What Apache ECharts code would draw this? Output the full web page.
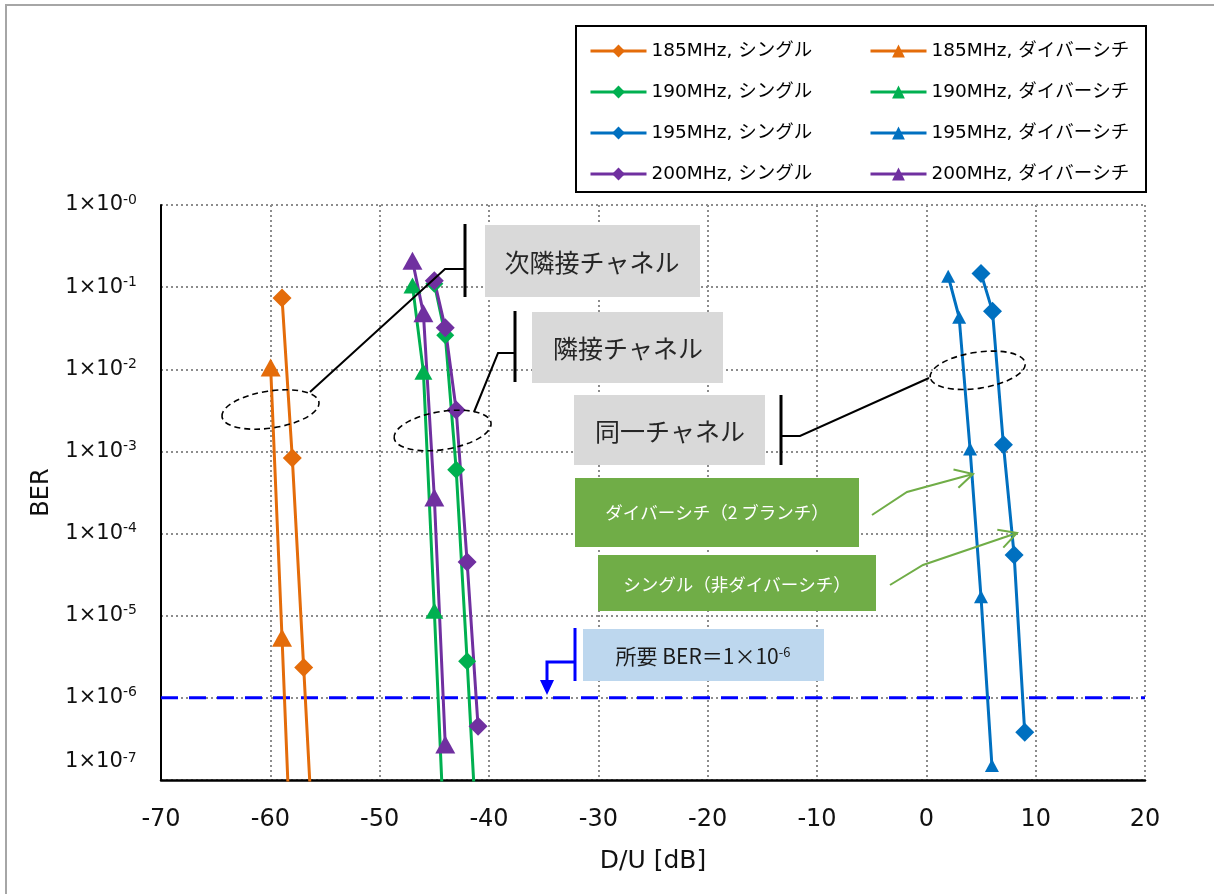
<!DOCTYPE html>
<html><head><meta charset="utf-8">
<script src="https://cdn.jsdelivr.net/npm/echarts@6/dist/echarts.min.js"></script>
<style>html,body{margin:0;padding:0;background:#fff}#c{width:1214px;height:894px}</style>
</head><body><div id="c"></div>
<script>
// ---- data: [D/U (dB), BER] ----
const X_MIN = -70, X_MAX = 20, X_STEP = 10;
const Y_MIN = 1e-7, Y_MAX = 1;
const REQUIRED_BER = 1e-6;

const s185Single = [[-58.93, 0.074], [-57.99, 8.3e-4], [-56.95, 2.35e-6], [-56.0, 1e-8]];
const s185Div    = [[-59.97, 0.0105], [-58.93, 5.4e-6], [-58.1, 1e-8]];
const s190Single = [[-45.0, 0.11], [-44.0, 0.026], [-43.0, 6.0e-4], [-42.0, 2.8e-6], [-41.0, 1e-8]];
const s190Div    = [[-47.0, 0.105], [-46.0, 9.3e-3], [-45.0, 1.15e-5], [-44.0, 1e-8]];
const s195Single = [[5.0, 0.147], [6.05, 0.051], [7.05, 1.21e-3], [8.03, 5.5e-5], [9.0, 3.8e-7]];
const s195Div    = [[2.0, 0.136], [3.0, 0.043], [4.0, 1.07e-3], [5.0, 1.7e-5], [6.0, 1.5e-7]];
const s200Single = [[-45.0, 0.12], [-44.0, 0.032], [-43.0, 3.2e-3], [-42.0, 4.5e-5], [-41.0, 4.5e-7]];
const s200Div    = [[-47.0, 0.21], [-46.0, 0.048], [-45.0, 2.75e-4], [-44.0, 2.7e-7]];

const namesSingle = ['185MHz, シングル', '190MHz, シングル', '195MHz, シングル', '200MHz, シングル'];
const namesDiv    = ['185MHz, ダイバーシチ', '190MHz, ダイバーシチ', '195MHz, ダイバーシチ', '200MHz, ダイバーシチ'];
const requiredLine = [[X_MIN, REQUIRED_BER], [X_MAX, REQUIRED_BER]];

// ---- styling ----
const FONT = "'DejaVu Sans', 'Noto Sans CJK JP', sans-serif";
const FONT_JP = "'Noto Sans CJK JP', sans-serif";
const C_OR = '#E46C0A', C_GR = '#00B050', C_BL = '#0070C0', C_PU = '#7030A0';

function mk(name, data, color, symbol, size) {
  return { name, type: 'line', data, symbol, symbolSize: size, showSymbol: true,
    itemStyle: { color }, lineStyle: { color, width: 3 }, clip: true, animation: false };
}

const series = [
  mk(namesSingle[0], s185Single, C_OR, 'diamond', 19),
  mk(namesDiv[0], s185Div, C_OR, 'triangle', [20, 18]),
  mk(namesSingle[1], s190Single, C_GR, 'diamond', 18),
  mk(namesDiv[1], s190Div, C_GR, 'triangle', [18, 16]),
  mk(namesSingle[2], s195Single, C_BL, 'diamond', 19),
  mk(namesDiv[2], s195Div, C_BL, 'triangle', [14, 13]),
  mk(namesSingle[3], s200Single, C_PU, 'diamond', 19),
  mk(namesDiv[3], s200Div, C_PU, 'triangle', [20, 18]),
  { name: 'required', type: 'line', data: requiredLine, symbol: 'none', z: 1,
    lineStyle: { color: '#0000FF', width: 3, type: [17, 11] }, animation: false, silent: true }
];

function box(x, y, w, h, fill) {
  return { type: 'rect', z: 100, shape: { x, y, width: w, height: h }, style: { fill, stroke: null } };
}
function txt(x, y, text, size, color, rich) {
  return { type: 'text', z: 101, x, y, style: { text, fill: color, fontSize: size, fontFamily: FONT_JP,
    align: 'center', verticalAlign: 'middle', rich } };
}
function pl(points, color, w) {
  return { type: 'polyline', z: 102, shape: { points }, style: { stroke: color, lineWidth: w, fill: null } };
}
function ell(cx, cy, rx, ry, rot) {
  return { type: 'ellipse', z: 102, x: cx, y: cy, rotation: rot, shape: { cx: 0, cy: 0, rx, ry },
    style: { fill: null, stroke: '#000', lineWidth: 1.6, lineDash: [6, 4] } };
}

const GREEN = '#70AD47';
const graphics = [
  { type: 'rect', z: 0, shape: { x: 6, y: 5, width: 1240, height: 920 }, style: { fill: null, stroke: '#A6A6A6', lineWidth: 2 } },
  { type: 'rect', z: 3, shape: { x: 576, y: 26, width: 570, height: 166 }, style: { fill: '#fff', stroke: '#000', lineWidth: 2 } },
  // 次隣接チャネル
  box(485, 225, 215, 72, '#D9D9D9'), txt(592, 262, '次隣接チャネル', 25, '#262626'),
  pl([[465, 224], [465, 297]], '#000', 3), pl([[465, 269], [445, 269], [310, 392]], '#000', 2),
  // 隣接チャネル
  box(532, 312, 191, 71, '#D9D9D9'), txt(628, 348, '隣接チャネル', 25, '#262626'),
  pl([[515, 311], [515, 382]], '#000', 3), pl([[515, 353], [498, 353], [474, 412]], '#000', 2),
  // 同一チャネル
  box(574, 395, 191, 70, '#D9D9D9'), txt(670, 431, '同一チャネル', 25, '#262626'),
  pl([[781, 395], [781, 465]], '#000', 3), pl([[781, 436], [800, 436], [929, 378]], '#000', 2),
  ell(270.5, 409.5, 49, 18.5, 0.15), ell(442.6, 430.5, 49, 19, 0.16), ell(977.7, 370.3, 48, 18, 0.15),
  // green labels
  box(575, 478, 284, 69, GREEN), txt(717, 512, 'ダイバーシチ（2 ブランチ）', 17.5, '#fff'),
  pl([[872, 515], [907, 492], [973, 474]], GREEN, 2), pl([[953.5, 469.6], [973, 474], [958.4, 487.7]], GREEN, 2),
  box(598, 555, 278, 56, GREEN), txt(737, 584, 'シングル（非ダイバーシチ）', 17.5, '#fff'),
  pl([[890, 585], [923, 565], [1017, 533]], GREEN, 2), pl([[997.3, 529.8], [1017, 533], [1003.3, 547.6]], GREEN, 2),
  // required BER
  box(583, 629, 241, 52, '#BDD7EE'),
  txt(703, 656, '所要 BER＝1×10{s|-6}', 21, '#1a1a1a', { s: { fontSize: 13, fontFamily: FONT_JP, fill: '#1a1a1a', verticalAlign: 'top', lineHeight: 13 } }),
  pl([[575, 628], [575, 681]], '#0000FF', 3), pl([[575, 662], [547, 662], [547, 682]], '#0000FF', 3),
  { type: 'polygon', z: 102, shape: { points: [[540, 680], [554, 680], [547, 695]] }, style: { fill: '#0000FF' } }
];

const legendCommon = { orient: 'vertical', top: 36, itemGap: 21, itemWidth: 56, itemHeight: 16, selectedMode: false,
  lineStyle: { width: 3 },
  textStyle: { fontSize: 18.5, fontFamily: FONT, color: '#000', lineHeight: 20 } };

const chart = echarts.init(document.getElementById('c'), null, { renderer: 'canvas' });
chart.setOption({
  animation: false,
  backgroundColor: '#fff',
  grid: { left: 161, right: 69, top: 205, bottom: 114, containLabel: false },
  legend: [
    Object.assign({}, legendCommon, { left: 584, data: namesSingle }),
    Object.assign({}, legendCommon, { left: 864, data: namesDiv })
  ],
  xAxis: {
    type: 'value', min: X_MIN, max: X_MAX, interval: X_STEP,
    name: 'D/U [dB]', nameLocation: 'middle', nameGap: 69,
    nameTextStyle: { fontSize: 25, fontFamily: FONT, color: '#111' },
    axisLine: { onZero: false, lineStyle: { color: '#000', width: 2.5 } },
    axisTick: { show: false },
    axisLabel: { fontSize: 24, fontFamily: FONT, color: '#111', margin: 28 },
    splitLine: { show: true, lineStyle: { color: '#8c8c8c', width: 2, type: [2, 3] } }
  },
  yAxis: {
    type: 'log', logBase: 10, min: Y_MIN, max: Y_MAX, interval: 1,
    name: 'BER', nameLocation: 'middle', nameGap: 101, nameRotate: 90,
    nameTextStyle: { fontSize: 24, fontFamily: FONT, color: '#111' },
    axisLine: { onZero: false, lineStyle: { color: '#000', width: 2 } },
    axisTick: { show: false },
    axisLabel: {
      margin: 24, color: '#111',
      formatter: function (v) {
        const e = Math.round(Math.log10(v));
        const s = '-' + Math.abs(e);
        if (e === -7) return '{b7|1×10}{s7|' + s + '}{p| }';
        return '{b|1×10}{s|' + s + '}';
      },
      rich: {
        b: { fontSize: 21, fontFamily: FONT, color: '#111', lineHeight: 24 },
        s: { fontSize: 14, fontFamily: FONT, color: '#111', lineHeight: 14, verticalAlign: 'top' },
        b7: { fontSize: 21, fontFamily: FONT, color: '#111', lineHeight: 24, verticalAlign: 'top' },
        s7: { fontSize: 14, fontFamily: FONT, color: '#111', lineHeight: 14, verticalAlign: 'top' },
        p: { fontSize: 1, lineHeight: 58 }
      }
    },
    splitLine: { show: true, lineStyle: { color: '#8c8c8c', width: 2, type: [2, 3] } }
  },
  series: series,
  graphic: graphics
});
</script></body></html>
